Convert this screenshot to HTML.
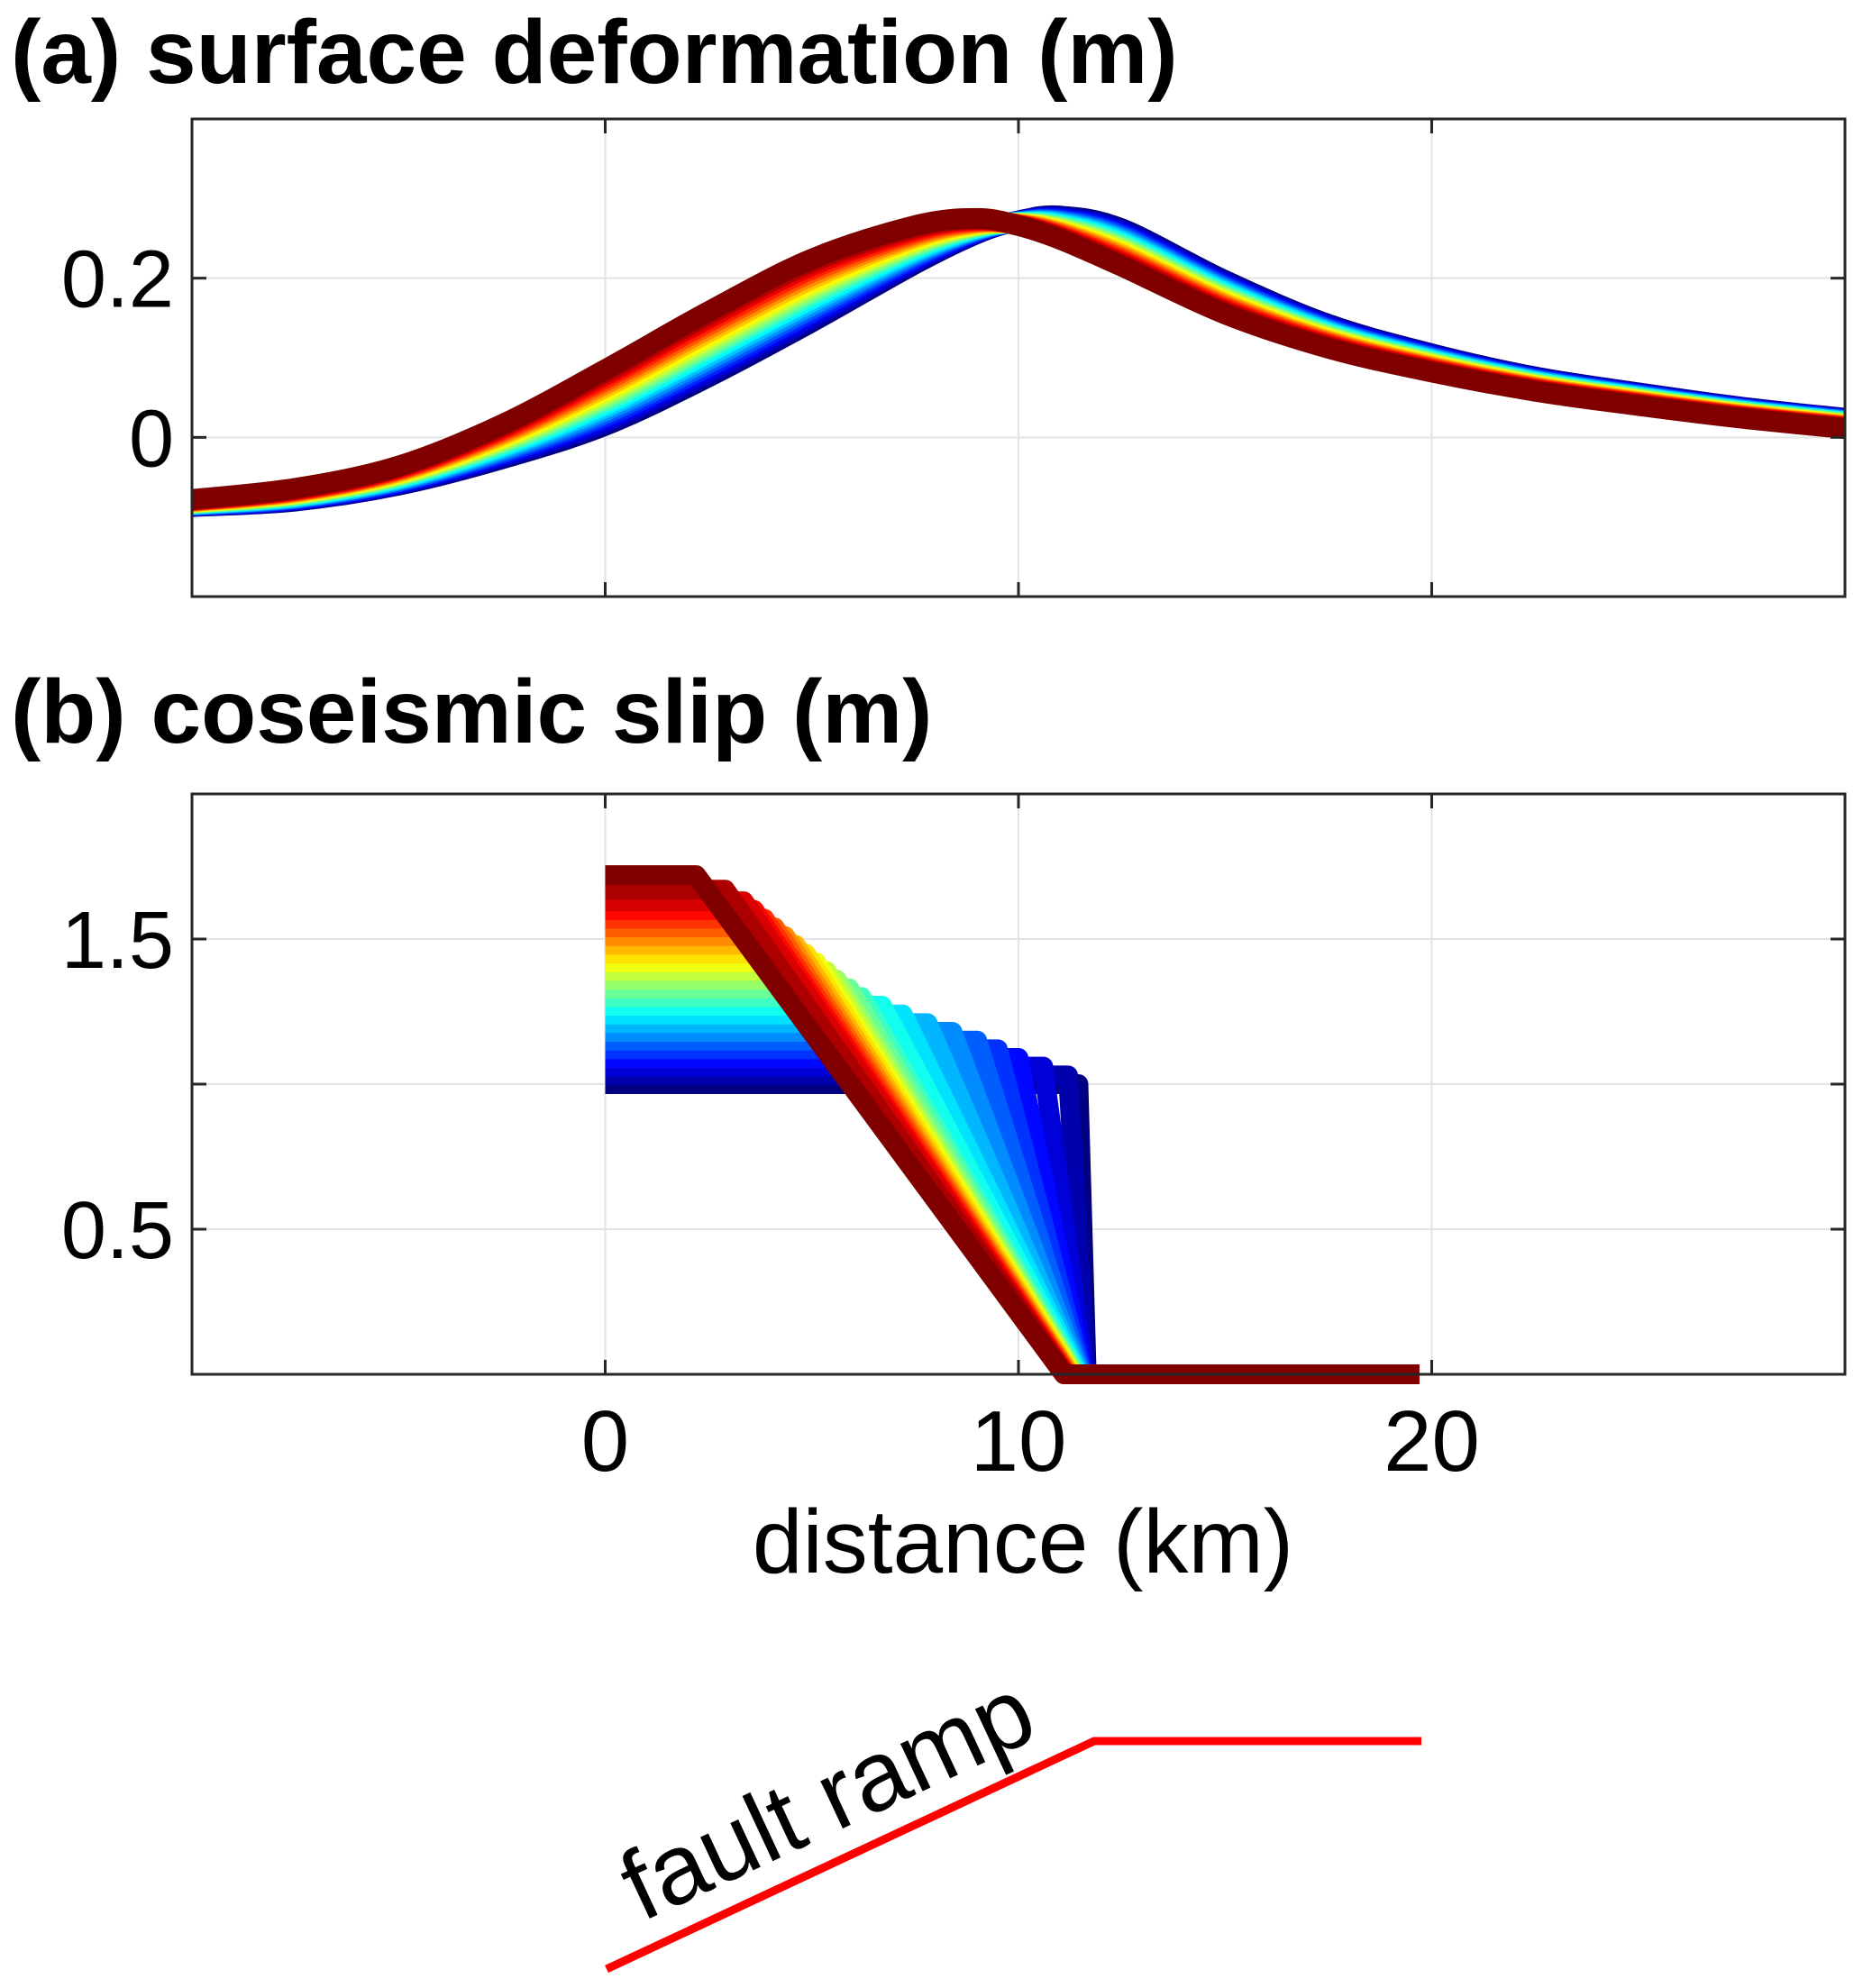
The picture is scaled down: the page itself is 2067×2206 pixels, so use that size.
<!DOCTYPE html>
<html><head><meta charset="utf-8">
<style>
html,body{margin:0;padding:0;background:#fff;}
svg{display:block;font-family:"Liberation Sans",Arial,sans-serif;}
</style></head>
<body>
<svg id="fig" width="2067" height="2206" viewBox="0 0 2067 2206" xmlns="http://www.w3.org/2000/svg">
<defs>
<clipPath id="clipA"><rect x="213" y="132" width="1834" height="530"/></clipPath>
</defs>
<text x="12" y="92" font-size="100" font-weight="bold">(a) surface deformation (m)</text>
<text x="12" y="824" font-size="100" font-weight="bold">(b) coseismic slip (m)</text>
<g id="panelA"></g>
<g id="panelB"></g>
<text x="1135" y="1745" font-size="100" text-anchor="middle">distance (km)</text>
<g>
<polyline points="673,2185 1214,1932 1577,1932" fill="none" stroke="#ff0000" stroke-width="9"/>
<text transform="translate(712,2133) rotate(-25)" font-size="110">fault ramp</text>
</g>
</svg>
<script>
// ---- Panel (a) data: surface deformation (m) ----
const defX = [-10,-7.5,-5,-2.5,0,2.5,5,7.5,9,10,11,12.5,15,17.5,20,22.5,25,27.5,30];
const defFirst = [-0.087,-0.080,-0.060,-0.027,0.015,0.076,0.145,0.218,0.256,0.272,0.278,0.262,0.197,0.142,0.105,0.076,0.056,0.038,0.024];
const defLast  = [-0.078,-0.064,-0.036,0.016,0.085,0.158,0.224,0.266,0.275,0.266,0.249,0.215,0.155,0.112,0.082,0.058,0.040,0.024,0.011];
const defCurveCount = 20;
const aYTicks = [0, 0.2];
const aYTickLabels = ["0", "0.2"];
const aXTicks = [0, 10, 20];
// ---- Panel (b) data: coseismic slip (m) ----
const slipPlateau = [1.00,1.03,1.06,1.09,1.12,1.15,1.18,1.21,1.24,1.27,1.30,1.33,1.36,1.39,1.42,1.45,1.48,1.51,1.54,1.57,1.60,1.63,1.67,1.72];
const slipPlateauEnd = [11.45,11.2,10.6,10.0,9.5,9.0,8.4,7.8,7.2,6.7,6.2,5.9,5.6,5.35,5.1,4.85,4.6,4.35,4.1,3.85,3.6,3.35,2.9,2.2];
const slipRampEnd = [11.65,11.63,11.6,11.58,11.55,11.52,11.5,11.47,11.45,11.42,11.4,11.37,11.35,11.32,11.3,11.28,11.25,11.22,11.2,11.18,11.15,11.13,11.12,11.1];
const slipFaultEnd = 19.7;
const bYTicks = [0.5, 1, 1.5];
const bYTickLabels = ["0.5", "", "1.5"];
const bXTicks = [0, 10, 20];
const bXTickLabels = ["0", "10", "20"];

const NS = "http://www.w3.org/2000/svg";
const L = 213, R = 2047;
const xS = v => L + (v + 10) / 40 * (R - L);
const ayS = v => 662 - (v + 0.2) / 0.6 * 530;
const byS = v => 1525 - v / 2 * 644;

function mk(tag, attrs, parent) {
  const e = document.createElementNS(NS, tag);
  for (const k in attrs) e.setAttribute(k, attrs[k]);
  parent.appendChild(e);
  return e;
}
function jet(t) {
  const c = x => Math.max(0, Math.min(1, x));
  const r = c(1.5 - Math.abs(4 * t - 3)), g = c(1.5 - Math.abs(4 * t - 2)), b = c(1.5 - Math.abs(4 * t - 1));
  return `rgb(${Math.round(r*255)},${Math.round(g*255)},${Math.round(b*255)})`;
}
function smoothPath(pts) {
  let d = `M${pts[0][0]},${pts[0][1]}`;
  for (let i = 0; i < pts.length - 1; i++) {
    const p0 = pts[Math.max(0, i - 1)], p1 = pts[i], p2 = pts[i + 1], p3 = pts[Math.min(pts.length - 1, i + 2)];
    const c1 = [p1[0] + (p2[0] - p0[0]) / 6, p1[1] + (p2[1] - p0[1]) / 6];
    const c2 = [p2[0] - (p3[0] - p1[0]) / 6, p2[1] - (p3[1] - p1[1]) / 6];
    d += ` C${c1[0]},${c1[1]} ${c2[0]},${c2[1]} ${p2[0]},${p2[1]}`;
  }
  return d;
}
function axesFrame(g, T, B, yTicks, yS, xTicks, name) {
  xTicks.forEach(t => {
    const gl = mk('line', {x1: xS(t), x2: xS(t), y1: T, y2: B, stroke: '#e3e3e3', 'stroke-width': 2}, g);
    
    
  });
  yTicks.forEach(t => {
    const gl = mk('line', {x1: L, x2: R, y1: yS(t), y2: yS(t), stroke: '#e3e3e3', 'stroke-width': 2}, g);
    
    
  });
}
function axesBox(g, T, B, yTicks, yLab, yS, xTicks, name) {
  const tl = 16;
  xTicks.forEach(t => {
    const a = mk('line', {x1: xS(t), x2: xS(t), y1: B, y2: B - tl, stroke: '#262626', 'stroke-width': 3}, g);
    
    
    const b = mk('line', {x1: xS(t), x2: xS(t), y1: T, y2: T + tl, stroke: '#262626', 'stroke-width': 3}, g);
    
    
  });
  yTicks.forEach((t, i) => {
    const a = mk('line', {x1: L, x2: L + tl, y1: yS(t), y2: yS(t), stroke: '#262626', 'stroke-width': 3}, g);
    
    
    const b = mk('line', {x1: R, x2: R - tl, y1: yS(t), y2: yS(t), stroke: '#262626', 'stroke-width': 3}, g);
    
    
    if (yLab[i]) {
      const tx = mk('text', {x: 193, y: yS(t) + 32, 'font-size': 90, 'text-anchor': 'end'}, g);
      tx.textContent = yLab[i];
      
      
    }
  });
  const box = mk('rect', {x: L, y: T, width: R - L, height: B - T, fill: 'none', stroke: '#262626', 'stroke-width': 3}, g);
  
  
}

// Panel A
const gA = document.getElementById('panelA');
axesFrame(gA, 132, 662, aYTicks, ayS, aXTicks, 'panel-a');
const curvesA = mk('g', {'clip-path': 'url(#clipA)'}, gA);


for (let k = 0; k < defCurveCount; k++) {
  const f = k / (defCurveCount - 1);
  const pts = defX.map((x, i) => [xS(x), ayS(defFirst[i] * (1 - f) + defLast[i] * f)]);
  const p = mk('path', {d: smoothPath(pts), fill: 'none', stroke: jet(f), 'stroke-width': 23, 'stroke-linejoin': 'round'}, curvesA);
  
  
}
axesBox(gA, 132, 662, aYTicks, aYTickLabels, ayS, aXTicks, 'panel-a');

// Panel B
const gB = document.getElementById('panelB');
axesFrame(gB, 881, 1525, bYTicks, byS, bXTicks, 'panel-b');
const curvesB = mk('g', {}, gB);


const nB = slipPlateau.length;
for (let k = 0; k < nB; k++) {
  const f = k / (nB - 1);
  const pts = [[0, slipPlateau[k]], [slipPlateauEnd[k], slipPlateau[k]], [slipRampEnd[k], 0], [slipFaultEnd, 0]];
  const p = mk('polyline', {points: pts.map(q => xS(q[0]) + ',' + byS(q[1])).join(' '), fill: 'none', stroke: jet(f), 'stroke-width': 22, 'stroke-linejoin': 'round'}, curvesB);
  
  
}
axesBox(gB, 881, 1525, bYTicks, bYTickLabels, byS, bXTicks, 'panel-b');
bXTicks.forEach((t, i) => {
  const tx = mk('text', {x: xS(t), y: 1632, 'font-size': 96, 'text-anchor': 'middle'}, gB);
  tx.textContent = bXTickLabels[i];
  
  
});
</script>
</body></html>
